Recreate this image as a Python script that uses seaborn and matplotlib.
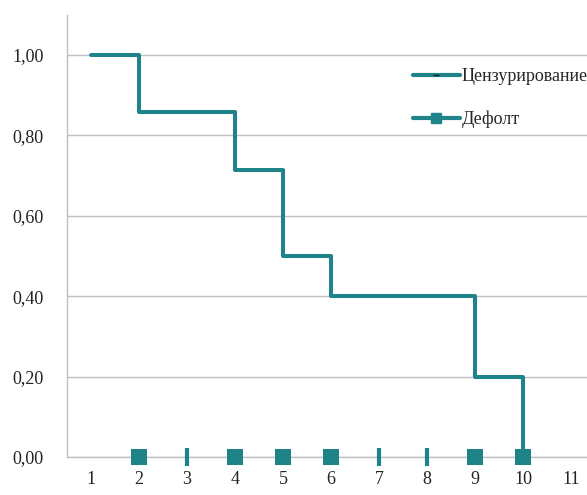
import matplotlib
matplotlib.use("Agg")
import matplotlib.pyplot as plt
from matplotlib.lines import Line2D
from matplotlib.ticker import FuncFormatter
import seaborn as sns
import pandas as pd

# survival curve (step function)
times = [1, 2, 4, 5, 6, 9, 10]
survival = [1.0, 0.857, 0.714, 0.5, 0.4, 0.2, 0.0]

# events on the time axis
default_times = [2, 4, 5, 6, 9, 10]
censor_times = [3, 7, 8]

x_ticks = [1, 2, 3, 4, 5, 6, 7, 8, 9, 10, 11]
y_ticks = [0.0, 0.2, 0.4, 0.6, 0.8, 1.0]
labels = ["Цензурирование", "Дефолт"]

teal = "#1e8489"
grid_col = "#c0c0c0"

sns.set_style("white")
plt.rcParams["font.family"] = ["Liberation Serif", "DejaVu Serif"]

df = pd.DataFrame({"t": times, "s": survival})
df_def = pd.DataFrame({"t": default_times, "s": [0.0] * len(default_times)})
df_cen = pd.DataFrame({"t": censor_times, "s": [0.0] * len(censor_times)})

fig = plt.figure(figsize=(5.87, 4.95), dpi=100)
ax = fig.add_axes([0.114, 0.077, 0.886, 0.893])

ax.set_axisbelow(True)
for y in y_ticks:
    ax.axhline(y, color=grid_col, lw=1, zorder=0)

sns.lineplot(data=df, x="t", y="s", ax=ax, color=teal, lw=2.9,
             drawstyle="steps-post", legend=False, zorder=3)
sns.scatterplot(data=df_def, x="t", y="s", ax=ax, color=teal, marker="s",
                s=120, linewidth=0, zorder=4, legend=False, clip_on=False)
sns.scatterplot(data=df_cen, x="t", y="s", ax=ax, color=teal, marker="|",
                s=165, linewidth=3, zorder=4, legend=False, clip_on=False)

ax.set_xlim(0.5, 11.33)
ax.set_ylim(0, 1.1)
ax.set_xticks(x_ticks)
ax.set_xticks([v + 0.5 for v in x_ticks[:-1]], minor=True)
ax.set_yticks(y_ticks)
ax.yaxis.set_major_formatter(FuncFormatter(lambda v, p: f"{v:.2f}".replace(".", ",")))
ax.tick_params(axis="x", which="major", length=0, labelsize=13, pad=10, colors="#222222")
ax.tick_params(axis="x", which="minor", length=5, color=grid_col, width=1)
ax.tick_params(axis="y", length=5, width=1, labelsize=13, pad=12, labelcolor="#222222",
               color=grid_col)
ax.set_xlabel("")
ax.set_ylabel("")

for side in ["top", "right"]:
    ax.spines[side].set_visible(False)
for side in ["left", "bottom"]:
    ax.spines[side].set_color(grid_col)
    ax.spines[side].set_linewidth(1)

handles = [
    Line2D([0], [0], color=teal, lw=3, marker="_", markersize=5,
           markeredgecolor="#222222", markeredgewidth=1),
    Line2D([0], [0], color=teal, lw=3, marker="s", markersize=7,
           markerfacecolor=teal, markeredgecolor=teal),
]
ax.legend(handles, labels, loc="upper right", bbox_to_anchor=(1.015, 0.895),
          frameon=False, fontsize=13, handlelength=2.6, handletextpad=0.1,
          labelspacing=1.4, borderaxespad=0)

fig.savefig("out.png", dpi=100)
